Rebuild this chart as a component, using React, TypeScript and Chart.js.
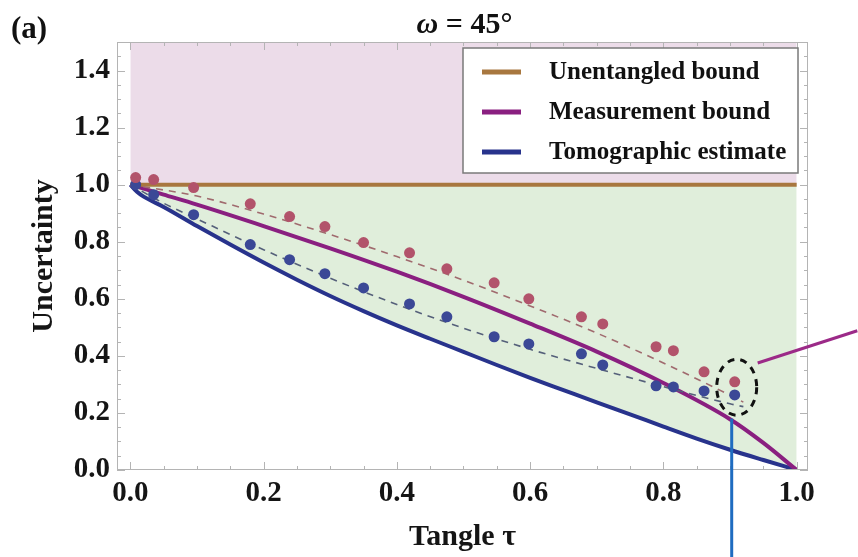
import React, { useEffect, useRef } from "react";
import { Chart, registerables } from "chart.js";

Chart.register(...registerables);

// ---------- data ----------
const xTicks = [0, 0.2, 0.4, 0.6, 0.8, 1.0];
const yTicks = [0, 0.2, 0.4, 0.6, 0.8, 1.0, 1.2, 1.4];

const boundTau = [0, 1];
const unentangledU = [1, 1];
const regionTopU = [1.5, 1.5];

const measTau = [0, 0.05, 0.1, 0.2, 0.3, 0.4, 0.5, 0.6, 0.7, 0.8, 0.9, 0.95, 1.0];
const measU = [1.0, 0.965, 0.93, 0.855, 0.777, 0.695, 0.607, 0.513, 0.415, 0.305, 0.178, 0.095, 0];

const tomoTau = [0, 0.01, 0.02, 0.05, 0.1, 0.15, 0.2, 0.25, 0.3, 0.35, 0.4, 0.45, 0.5, 0.55, 0.6, 0.65, 0.7, 0.75, 0.8, 0.85, 0.9, 0.95, 1.0];
const tomoU = [1.0, 0.975, 0.958, 0.922, 0.855, 0.79, 0.727, 0.667, 0.61, 0.557, 0.507, 0.46, 0.414, 0.368, 0.323, 0.28, 0.237, 0.195, 0.152, 0.11, 0.071, 0.035, 0];

const redFitTau = [0, 0.1, 0.2, 0.3, 0.4, 0.5, 0.6, 0.7, 0.8, 0.9, 0.92];
const redFitU = [1.0, 0.96, 0.897, 0.825, 0.748, 0.665, 0.575, 0.48, 0.375, 0.262, 0.238];

const blueFitTau = [0, 0.05, 0.1, 0.2, 0.3, 0.4, 0.5, 0.6, 0.7, 0.8, 0.9, 0.92];
const blueFitU = [1.0, 0.935, 0.88, 0.772, 0.672, 0.58, 0.497, 0.423, 0.356, 0.292, 0.232, 0.222];

const expTau = [0.008, 0.035, 0.095, 0.18, 0.239, 0.292, 0.35, 0.419, 0.475, 0.546, 0.598, 0.677, 0.709, 0.789, 0.815, 0.861, 0.907];
const expRedU = [1.025, 1.018, 0.99, 0.933, 0.888, 0.853, 0.797, 0.761, 0.705, 0.656, 0.6, 0.537, 0.512, 0.432, 0.418, 0.344, 0.309];
const expBlueU = [1.0, 0.965, 0.895, 0.79, 0.737, 0.688, 0.638, 0.582, 0.537, 0.467, 0.442, 0.407, 0.368, 0.295, 0.291, 0.277, 0.263];

// annotations (data coordinates)
const ellipseCenter = [0.91, 0.29];
const ellipseRadius = [0.03, 0.098];
const magentaPointer = [[0.9415, 0.375], [1.091, 0.488]];
const bluePointer = [[0.9025, 0.18], [0.9025, -0.32]];

const FONT = "'Liberation Serif', 'DejaVu Serif', serif";

const COLORS = {
  orange: "#a8773f",
  purple: "#8a1f80",
  navy: "#28338c",
  pink: "#ecdce9",
  green: "#e0eedb",
  redPt: "#b2536b",
  bluePt: "#3b4896",
  redDash: "#a06a6e",
  blueDash: "#55607a",
};

const pts = (xs: number[], ys: number[]) => xs.map((x, i) => ({ x, y: ys[i] }));

const decorPlugin = {
  id: "decor",
  afterDatasetsDraw(chart: any) {
    const { ctx, chartArea: a, scales } = chart;
    const xs = scales.x, ys = scales.y;
    ctx.save();
    ctx.strokeStyle = "#b4b4b4";
    ctx.lineWidth = 1;
    ctx.strokeRect(a.left + 0.5, a.top + 0.5, a.right - a.left - 1, a.bottom - a.top - 1);
    const drawX = (v: number, len: number) => {
      const p = Math.round(xs.getPixelForValue(v)) + 0.5;
      ctx.beginPath();
      ctx.moveTo(p, a.bottom); ctx.lineTo(p, a.bottom - len);
      ctx.moveTo(p, a.top); ctx.lineTo(p, a.top + len);
      ctx.stroke();
    };
    const drawY = (v: number, len: number) => {
      const p = Math.round(ys.getPixelForValue(v)) + 0.5;
      ctx.beginPath();
      ctx.moveTo(a.left, p); ctx.lineTo(a.left + len, p);
      ctx.moveTo(a.right, p); ctx.lineTo(a.right - len, p);
      ctx.stroke();
    };
    for (let i = 0; i <= 20; i++) drawX(i * 0.05, i % 4 === 0 ? 8 : 4);
    for (let i = 0; i <= 29; i++) drawY(i * 0.05, i % 4 === 0 ? 8 : 4);
    ctx.restore();
  },
  afterDraw(chart: any) {
    const { ctx, chartArea: a, scales } = chart;
    const xs = scales.x, ys = scales.y;
    const px = (v: number) => xs.getPixelForValue(v);
    const py = (v: number) => ys.getPixelForValue(v);
    ctx.save();

    // ellipse annotation
    ctx.strokeStyle = "#111";
    ctx.lineWidth = 3;
    ctx.setLineDash([7, 6]);
    const cx = px(ellipseCenter[0]), cy = py(ellipseCenter[1]);
    const rx = px(ellipseCenter[0] + ellipseRadius[0]) - cx;
    const ry = cy - py(ellipseCenter[1] + ellipseRadius[1]);
    ctx.beginPath();
    ctx.ellipse(cx, cy, rx, ry, 0, 0, Math.PI * 2);
    ctx.stroke();
    ctx.setLineDash([]);

    // pointers
    ctx.lineWidth = 3;
    ctx.strokeStyle = "#9c2a88";
    ctx.beginPath();
    ctx.moveTo(px(magentaPointer[0][0]), py(magentaPointer[0][1]));
    ctx.lineTo(px(magentaPointer[1][0]), py(magentaPointer[1][1]));
    ctx.stroke();
    ctx.strokeStyle = "#1f6cc0";
    ctx.beginPath();
    ctx.moveTo(px(bluePointer[0][0]), py(bluePointer[0][1]));
    ctx.lineTo(px(bluePointer[1][0]), py(bluePointer[1][1]));
    ctx.stroke();

    // legend box
    const lx = a.left + 346, ly = a.top + 6, lw = 335, lh = 125;
    ctx.fillStyle = "#ffffff";
    ctx.fillRect(lx, ly, lw, lh);
    ctx.strokeStyle = "#7a7a7a";
    ctx.lineWidth = 1.5;
    ctx.strokeRect(lx, ly, lw, lh);
    const items = chart.data.datasets.filter((d: any) => d.legendColor);
    items.forEach((d: any, i: number) => {
      const yy = ly + 24 + i * 40;
      ctx.strokeStyle = d.legendColor;
      ctx.lineWidth = 5;
      ctx.beginPath();
      ctx.moveTo(lx + 19, yy);
      ctx.lineTo(lx + 58, yy);
      ctx.stroke();
      ctx.fillStyle = "#111";
      ctx.font = `bold 25px ${FONT}`;
      ctx.textAlign = "left";
      ctx.textBaseline = "middle";
      ctx.fillText(d.label, lx + 86, yy + 1);
    });

    // title
    const mid = (a.left + a.right) / 2 + 2;
    ctx.fillStyle = "#111";
    ctx.textBaseline = "alphabetic";
    ctx.font = `italic bold 30px ${FONT}`;
    const w1 = ctx.measureText("ω").width;
    ctx.font = `bold 30px ${FONT}`;
    const rest = " = 45°";
    const w2 = ctx.measureText(rest).width;
    const start = mid - (w1 + w2) / 2;
    ctx.font = `italic bold 30px ${FONT}`;
    ctx.textAlign = "left";
    ctx.fillText("ω", start, 33);
    ctx.font = `bold 30px ${FONT}`;
    ctx.fillText(rest, start + w1, 33);

    // panel label
    ctx.font = `bold 31px ${FONT}`;
    ctx.fillText("(a)", 11, 38);
    ctx.restore();
  },
};

export default function App() {
  const ref = useRef<HTMLCanvasElement | null>(null);
  useEffect(() => {
    document.body.style.margin = "0";
    const tickFont = { family: FONT, size: 29, weight: "bold" as const };
    const titleFont = { family: FONT, size: 30, weight: "bold" as const };
    const chart = new Chart(ref.current as HTMLCanvasElement, {
      type: "scatter",
      data: {
        datasets: [
          {
            label: "Measured (measurement)",
            data: pts(expTau, expRedU),
            backgroundColor: COLORS.redPt,
            borderColor: COLORS.redPt,
            pointRadius: 5.5,
            pointBorderWidth: 0,
            showLine: false,
          } as any,
          {
            label: "Measured (tomographic)",
            data: pts(expTau, expBlueU),
            backgroundColor: COLORS.bluePt,
            borderColor: COLORS.bluePt,
            pointRadius: 5.5,
            pointBorderWidth: 0,
            showLine: false,
          },
          {
            label: "Fit (measurement)",
            data: pts(redFitTau, redFitU),
            borderColor: COLORS.redDash,
            borderWidth: 1.6,
            borderDash: [7, 6],
            pointRadius: 0,
            showLine: true,
            cubicInterpolationMode: "monotone",
            fill: false,
          },
          {
            label: "Fit (tomographic)",
            data: pts(blueFitTau, blueFitU),
            borderColor: COLORS.blueDash,
            borderWidth: 1.6,
            borderDash: [7, 6],
            pointRadius: 0,
            showLine: true,
            cubicInterpolationMode: "monotone",
            fill: false,
          },
          {
            label: "Unentangled bound",
            legendColor: COLORS.orange,
            data: pts(boundTau, unentangledU),
            borderColor: COLORS.orange,
            borderWidth: 4,
            pointRadius: 0,
            showLine: true,
            fill: false,
          } as any,
          {
            label: "Measurement bound",
            legendColor: COLORS.purple,
            data: pts(measTau, measU),
            borderColor: COLORS.purple,
            borderWidth: 4,
            pointRadius: 0,
            showLine: true,
            cubicInterpolationMode: "monotone",
            fill: false,
          } as any,
          {
            label: "Tomographic estimate",
            legendColor: COLORS.navy,
            data: pts(tomoTau, tomoU),
            borderColor: COLORS.navy,
            backgroundColor: COLORS.green,
            borderWidth: 4,
            pointRadius: 0,
            showLine: true,
            cubicInterpolationMode: "monotone",
            fill: { value: 1 },
          } as any,
          {
            label: "Entangled region",
            data: pts(boundTau, regionTopU),
            borderWidth: 0,
            borderColor: "rgba(0,0,0,0)",
            backgroundColor: COLORS.pink,
            pointRadius: 0,
            showLine: true,
            fill: { value: 1 },
          } as any,
        ],
      },
      options: {
        responsive: false,
        animation: false,
        devicePixelRatio: 1,
        layout: { padding: { top: 42, right: 50, left: 0, bottom: 0 } },
        plugins: {
          legend: { display: false },
          tooltip: { enabled: false },
          filler: { drawTime: "beforeDatasetsDraw" },
        } as any,
        scales: {
          x: {
            type: "linear",
            min: -0.02,
            max: 1.017,
            afterBuildTicks: (s: any) => {
              s.ticks = xTicks.map((v) => ({ value: v }));
            },
            afterFit: (s: any) => {
              s.height = 87;
            },
            grid: { display: false, drawTicks: false },
            border: { display: false },
            ticks: {
              font: tickFont,
              color: "#151515",
              padding: 6,
              maxRotation: 0,
              autoSkip: false,
              callback: (v: any) => Number(v).toFixed(1),
            },
            title: {
              display: true,
              text: "Tangle τ",
              font: titleFont,
              color: "#151515",
              padding: { top: 0, bottom: 2 },
            },
          },
          y: {
            type: "linear",
            min: 0,
            max: 1.5,
            afterBuildTicks: (s: any) => {
              s.ticks = yTicks.map((v) => ({ value: v }));
            },
            afterFit: (s: any) => {
              s.width = 117;
            },
            grid: { display: false, drawTicks: false },
            border: { display: false },
            ticks: {
              font: tickFont,
              color: "#151515",
              padding: 7,
              autoSkip: false,
              callback: (v: any) => Number(v).toFixed(1),
            },
            title: {
              display: true,
              text: "Uncertainty",
              font: titleFont,
              color: "#151515",
              padding: { top: 26, bottom: 0 },
            },
          },
        },
      },
      plugins: [decorPlugin],
    });
    return () => chart.destroy();
  }, []);
  return (
    <div style={{ position: "absolute", left: 0, top: 0, width: 858, height: 557, background: "#fff" }}>
      <canvas ref={ref} width={858} height={557} style={{ display: "block" }} />
    </div>
  );
}
